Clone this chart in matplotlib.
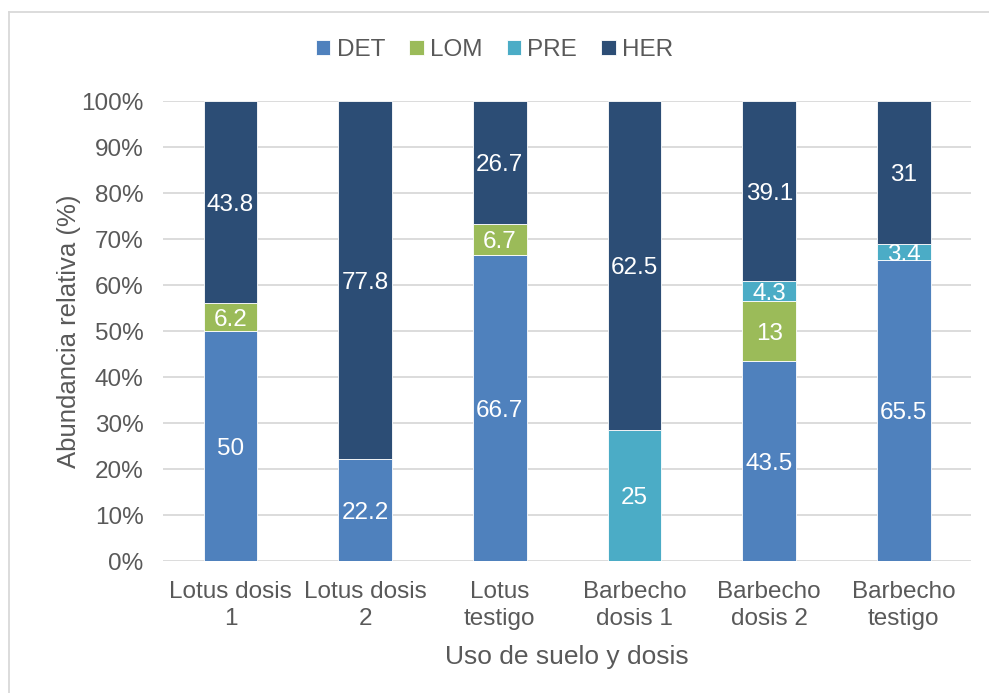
import matplotlib
matplotlib.use("Agg")
import matplotlib.pyplot as plt
import numpy as np
from matplotlib.lines import Line2D
from matplotlib.ticker import PercentFormatter

plt.rcParams['font.family'] = ['Liberation Sans', 'DejaVu Sans']

categories = ["Lotus dosis\n1", "Lotus dosis\n2", "Lotus\ntestigo",
              "Barbecho\ndosis 1", "Barbecho\ndosis 2", "Barbecho\ntestigo"]
series_names = ["DET", "LOM", "PRE", "HER"]
DET = [50, 22.2, 66.7, 0, 43.5, 65.5]
LOM = [6.2, 0, 6.7, 0, 13, 0]
PRE = [0, 0, 0, 25, 4.3, 3.4]
HER = [43.8, 77.8, 26.7, 62.5, 39.1, 31]
colors = ["#4F81BD", "#9BBB59", "#4BACC6", "#2C4D75"]

data = np.array([DET, LOM, PRE, HER], dtype=float)
totals = data.sum(axis=0)
pct = data / totals * 100

fig = plt.figure(figsize=(9.89, 6.93), dpi=100)
ax = fig.add_axes([0.165, 0.190, 0.817, 0.664])

x = np.arange(len(categories))
bottom = np.zeros(len(categories))
grey = "#595959"
for i, name in enumerate(series_names):
    ax.bar(x, pct[i], 0.4, bottom=bottom, color=colors[i], label=name,
           edgecolor="white", linewidth=0.6, zorder=3)
    for j in range(len(categories)):
        if data[i, j] > 0:
            ax.text(x[j], bottom[j] + pct[i, j] / 2 - 0.6, f"{data[i, j]:g}",
                    ha="center", va="center", color="white", fontsize=17.5, zorder=4)
    bottom += pct[i]

ax.set_ylim(0, 100)
ax.set_xlim(-0.5, len(categories) - 0.5)
ax.set_yticks(np.arange(0, 101, 10))
ax.yaxis.set_major_formatter(PercentFormatter(decimals=0))
ax.set_xticks(x)
ax.set_xticklabels(categories, linespacing=1.3)
ax.tick_params(axis="both", length=0, labelsize=17.5, colors=grey)
ax.tick_params(axis="y", pad=14)
ax.tick_params(axis="x", pad=14)
ax.grid(axis="y", color="#D9D9D9", linewidth=1.3, zorder=0)
for s in ax.spines.values():
    s.set_visible(False)
ax.set_ylabel("Abundancia relativa (%)", fontsize=18.5, color=grey, labelpad=0)
ax.set_xlabel("Uso de suelo y dosis", fontsize=19, color=grey, labelpad=11)

leg = fig.legend(loc="center", bbox_to_anchor=(0.5, 0.928), ncol=4, frameon=False,
                 fontsize=17.5, handlelength=0.6, handleheight=0.6, handletextpad=0.25,
                 columnspacing=1.0)
for t in leg.get_texts():
    t.set_color(grey)

fig.add_artist(Line2D([0.009, 0.009], [0.0, 0.982], transform=fig.transFigure,
                      color="#D9D9D9", linewidth=1.3))
fig.add_artist(Line2D([0.009, 1.0], [0.982, 0.982], transform=fig.transFigure,
                      color="#D9D9D9", linewidth=1.3))

fig.savefig("out.png", dpi=100)
